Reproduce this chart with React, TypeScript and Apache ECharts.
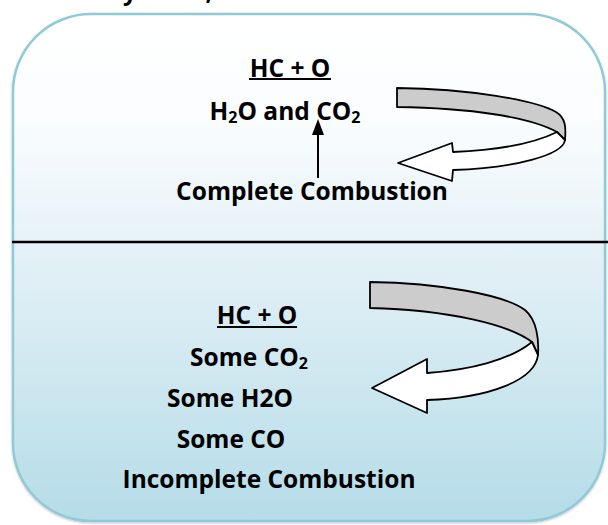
import React, { useEffect, useRef } from "react";
import * as echarts from "echarts";

// Text content
const upperTitle = "HC + O";
const upperProducts = ["H", "2", "O and CO", "2"];
const upperLabel = "Complete Combustion";
const lowerTitle = "HC + O";
const lowerProducts = [
  ["Some CO", "2"],
  ["Some H2O", ""],
  ["Some CO", ""],
];
const lowerLabel = "Incomplete Combustion";
const topFragments = ["y", ","];

// Layout (positions kept separate from content)
const upperTitlePos = [290, 67];
const upperProductsPos = [285, 110];
const upperLabelPos = [312, 190];
const lowerTitlePos = [257, 314];
const lowerProductsPos = [
  [249, 356],
  [230, 397],
  [231, 438],
];
const lowerLabelPos = [269, 478];
const topFragmentsPos = [130, 209];

const FONT = "'Open Sans', Lato, sans-serif";
const FS = 24.5;

const grayTop =
  "M397,88 C470,89 535,100 556,112 C566,118 566,128 565,140 L557,132 C530,117 470,108 397,107 Z";
const whiteTop =
  "M557,132 L565,140 C563,155 515,168 453,170 L452,181 L398,163 L452,143 L453,152 C500,150 535,143 557,132 Z";
const grayBottom =
  "M370,282 C440,283 505,295 525,310 C537,320 539,340 538,355 L532,342 C510,325 450,310 370,308 Z";
const whiteBottom =
  "M532,342 L538,355 C535,380 490,398 427,400 L427,413 L372,388 L427,359 L427,373 C470,370 510,360 532,342 Z";

let registered = false;
function registerShapes() {
  if (registered) return;
  registered = true;
  echarts.graphic.registerShape("grayTop", echarts.graphic.extendPath(grayTop, {}));
  echarts.graphic.registerShape("whiteTop", echarts.graphic.extendPath(whiteTop, {}));
  echarts.graphic.registerShape("grayBottom", echarts.graphic.extendPath(grayBottom, {}));
  echarts.graphic.registerShape("whiteBottom", echarts.graphic.extendPath(whiteBottom, {}));
}

function txt(text: string, x: number, y: number, extra: any = {}) {
  return {
    type: "text",
    x,
    y,
    style: {
      text,
      fill: "#000",
      font: `bold ${FS}px ${FONT}`,
      textAlign: "center",
      textVerticalAlign: "middle",
      ...extra,
    },
  };
}

function richTxt(parts: string[], x: number, y: number) {
  let s = "";
  for (let i = 0; i < parts.length; i++) {
    if (!parts[i]) continue;
    s += i % 2 === 0 ? `{n|${parts[i]}}` : `{s|${parts[i]}}`;
  }
  return {
    type: "text",
    x,
    y,
    style: {
      text: s,
      fill: "#000",
      textAlign: "center",
      textVerticalAlign: "middle",
      rich: {
        n: {
          fontFamily: FONT,
          fontWeight: "bold",
          fontSize: FS,
          lineHeight: 30,
          fill: "#000",
          verticalAlign: "middle",
        },
        s: {
          fontFamily: FONT,
          fontWeight: "bold",
          fontSize: 16,
          lineHeight: 18,
          fill: "#000",
          verticalAlign: "bottom",
        },
      },
    },
  };
}

export default function App() {
  const ref = useRef<HTMLDivElement>(null);
  useEffect(() => {
    if (!ref.current) return;
    registerShapes();
    const chart = echarts.init(ref.current, null, { renderer: "svg" });
    const ribbonStyle = { stroke: "#000", lineWidth: 1.8, lineJoin: "round" };
    const elements: any[] = [
      {
        type: "rect",
        shape: { x: 13, y: 14, width: 592, height: 507, r: 78 },
        style: {
          fill: new echarts.graphic.LinearGradient(0, 0, 0, 1, [
            { offset: 0, color: "#ffffff" },
            { offset: 0.2, color: "#fbfdfe" },
            { offset: 0.45, color: "#e6f2f7" },
            { offset: 1, color: "#b5dce8" },
          ]),
          stroke: "#90cad8",
          lineWidth: 2.5,
          shadowColor: "rgba(0,0,0,0.25)",
          shadowBlur: 2,
          shadowOffsetY: 1,
        },
      },
      {
        type: "line",
        shape: { x1: 12, y1: 242, x2: 608, y2: 242 },
        style: { stroke: "#000", lineWidth: 2.5 },
      },
      // top fragments cut off, as in the source
      ...topFragments.map((t, i) => txt(t, topFragmentsPos[i], -10)),
      // upper section
      txt(upperTitle, upperTitlePos[0], upperTitlePos[1]),
      {
        type: "line",
        shape: { x1: 249, y1: 79, x2: 331, y2: 79 },
        style: { stroke: "#000", lineWidth: 2 },
      },
      richTxt(upperProducts, upperProductsPos[0], upperProductsPos[1]),
      {
        type: "line",
        shape: { x1: 318, y1: 178, x2: 318, y2: 133 },
        style: { stroke: "#000", lineWidth: 2 },
      },
      {
        type: "polygon",
        shape: { points: [[318, 119], [312, 135], [324, 135]] },
        style: { fill: "#000" },
      },
      txt(upperLabel, upperLabelPos[0], upperLabelPos[1]),
      // lower section
      txt(lowerTitle, lowerTitlePos[0], lowerTitlePos[1]),
      {
        type: "line",
        shape: { x1: 217, y1: 327, x2: 297, y2: 327 },
        style: { stroke: "#000", lineWidth: 2 },
      },
      ...lowerProducts.map((p, i) =>
        richTxt(p, lowerProductsPos[i][0], lowerProductsPos[i][1])
      ),
      txt(lowerLabel, lowerLabelPos[0], lowerLabelPos[1]),
      // ribbons
      { type: "grayTop", x: 0, y: 0, style: { fill: "#cccccc", ...ribbonStyle } },
      { type: "whiteTop", x: 0, y: 0, style: { fill: "#ffffff", ...ribbonStyle } },
      { type: "grayBottom", x: 0, y: 0, style: { fill: "#cccccc", ...ribbonStyle } },
      { type: "whiteBottom", x: 0, y: 0, style: { fill: "#ffffff", ...ribbonStyle } },
    ];
    chart.setOption({
      animation: false,
      backgroundColor: "#ffffff",
      graphic: { elements },
    });
    return () => chart.dispose();
  }, []);
  return (
    <div
      ref={ref}
      style={{ position: "fixed", left: 0, top: 0, width: 608, height: 525 }}
    />
  );
}
